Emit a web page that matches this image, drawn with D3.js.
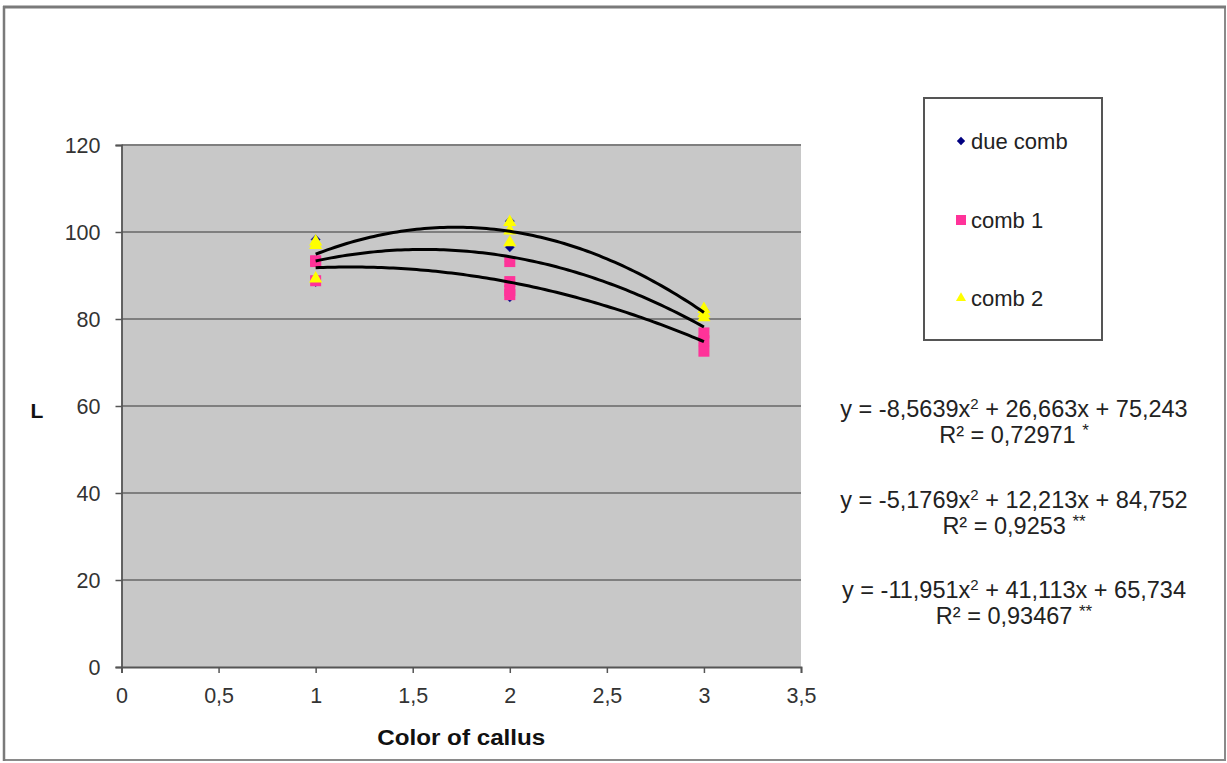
<!DOCTYPE html>
<html>
<head>
<meta charset="utf-8">
<script src="https://cdn.jsdelivr.net/npm/d3@7"></script>
<style>
  html, body { margin: 0; padding: 0; background: #fff; }
  svg { display: block; font-family: "Liberation Sans", Arial, sans-serif; }
</style>
</head>
<body>
<svg id="chart" width="1227" height="763"></svg>
<script>
// Callus colour class (x) vs lightness L (y), three combinations
const seriesNames = ["due comb", "comb 1", "comb 2"];
const seriesColors = ["#000080", "#ff3399", "#ffff00"];

const dueCombX = [1, 1, 2, 2, 2, 2, 3, 3];
const dueCombY = [98.3, 88.5, 102.5, 96.5, 93.2, 85.0, 82.0, 74.3];

const comb1X = [1, 1, 1, 2, 2, 2, 2, 3, 3, 3];
const comb1Y = [93.2, 88.8, 93.4, 93.2, 88.6, 86.5, 85.6, 76.8, 72.6, 75.0];

const comb2X = [1, 1, 1, 2, 2, 2, 3, 3, 3];
const comb2Y = [98.0, 97.2, 89.5, 102.5, 100.5, 97.8, 82.5, 81.5, 80.6];

// Polynomial (order 2) trendline coefficients [a, b, c] for y = a x² + b x + c
const dueCombFit = [-8.5639, 26.663, 75.243];
const comb1Fit = [-5.1769, 12.213, 84.752];
const comb2Fit = [-11.951, 41.113, 65.734];
const fitRange = [1, 3];

const eqLabels = [
  ["y = -8,5639x", " + 26,663x + 75,243", "R² = 0,72971 ", "*"],
  ["y = -5,1769x", " + 12,213x + 84,752", "R² = 0,9253 ", "**"],
  ["y = -11,951x", " + 41,113x + 65,734", "R² = 0,93467 ", "**"]
];

const xTicks = [0, 0.5, 1, 1.5, 2, 2.5, 3, 3.5];
const yTicks = [0, 20, 40, 60, 80, 100, 120];
const xTitle = "Color of callus";
const yTitle = "L";

const svg = d3.select("#chart");

// outer frame
svg.append("rect").attr("x", 4).attr("y", 7).attr("width", 1221).attr("height", 753)
  .attr("fill", "#fff").attr("stroke", "#8a8a8a").attr("stroke-width", 2);
svg.append("line").attr("x1", 3).attr("x2", 1226).attr("y1", 7).attr("y2", 7)
  .attr("stroke", "#7a7a7a").attr("stroke-width", 3);
svg.append("line").attr("x1", 4).attr("x2", 4).attr("y1", 6).attr("y2", 761)
  .attr("stroke", "#7a7a7a").attr("stroke-width", 2.5);

const plot = { left: 121.5, right: 801, top: 145, bottom: 667 };
const x = d3.scaleLinear().domain([0, 3.5]).range([plot.left, plot.right]);
const y = d3.scaleLinear().domain([0, 120]).range([plot.bottom, plot.top]);

// plot area
svg.append("rect").attr("x", plot.left).attr("y", plot.top)
  .attr("width", plot.right - plot.left).attr("height", plot.bottom - plot.top)
  .attr("fill", "#c8c8c8");

// horizontal gridlines
svg.append("g").selectAll("line").data(yTicks.filter(d => d > 0)).join("line")
  .attr("x1", plot.left).attr("x2", plot.right)
  .attr("y1", d => y(d)).attr("y2", d => y(d))
  .attr("stroke", "#7f7f7f").attr("stroke-width", 2.2);

// axes
const fmt = d => String(d).replace(".", ",");
const yAxis = svg.append("g").attr("transform", `translate(${plot.left},0)`)
  .call(d3.axisLeft(y).tickValues(yTicks).tickFormat(fmt).tickSize(6).tickPadding(15));
const xAxis = svg.append("g").attr("transform", `translate(0,${plot.bottom})`)
  .call(d3.axisBottom(x).tickValues(xTicks).tickFormat(fmt).tickSize(6).tickPadding(15));
[xAxis, yAxis].forEach(g => {
  g.select(".domain").attr("stroke", "#555").attr("stroke-width", 1.8);
  g.selectAll(".tick line").attr("stroke", "#555").attr("stroke-width", 1.5);
  g.selectAll(".tick text").attr("font-size", 21.5).attr("fill", "#333")
    .attr("font-family", "Liberation Sans, Arial, sans-serif");
});
yAxis.selectAll(".tick text").attr("dy", "0.36em");

// axis titles
svg.append("text").attr("x", x(1.75)).attr("y", 745).attr("text-anchor", "middle")
  .attr("font-size", 22).attr("font-weight", "bold").attr("fill", "#111")
  .attr("textLength", 168).attr("lengthAdjust", "spacingAndGlyphs").text(xTitle);
svg.append("text").attr("x", 37).attr("y", 418).attr("text-anchor", "middle")
  .attr("font-size", 21).attr("font-weight", "bold").attr("fill", "#111").text(yTitle);

// markers
function drawMarkers(xs, ys, kind, color) {
  const g = svg.append("g");
  const pts = xs.map((d, i) => [x(d), y(ys[i])]);
  if (kind === "diamond") {
    g.selectAll("path").data(pts).join("path")
      .attr("d", d3.symbol(d3.symbolDiamond2, 56))
      .attr("transform", d => `translate(${d[0]},${d[1]})`)
      .attr("fill", color).attr("stroke", "#3344aa").attr("stroke-width", 0.5);
  } else if (kind === "square") {
    g.selectAll("rect").data(pts).join("rect")
      .attr("x", d => d[0] - 5.5).attr("y", d => d[1] - 5.5)
      .attr("width", 11).attr("height", 11).attr("fill", color);
  } else {
    g.selectAll("path").data(pts).join("path")
      .attr("d", d3.symbol(d3.symbolTriangle, 75))
      .attr("transform", d => `translate(${d[0]},${d[1] + 1})`)
      .attr("fill", color);
  }
}
drawMarkers(dueCombX, dueCombY, "diamond", seriesColors[0]);
drawMarkers(comb1X, comb1Y, "square", seriesColors[1]);
drawMarkers(comb2X, comb2Y, "triangle", seriesColors[2]);

// trendlines
const line = d3.line().x(d => x(d[0])).y(d => y(d[1])).curve(d3.curveLinear);
[dueCombFit, comb1Fit, comb2Fit].forEach(c => {
  const pts = d3.range(fitRange[0], fitRange[1] + 0.0001, 0.02)
    .map(t => [t, c[0] * t * t + c[1] * t + c[2]]);
  svg.append("path").attr("d", line(pts)).attr("fill", "none")
    .attr("stroke", "#000").attr("stroke-width", 3);
});

// legend
const lg = svg.append("g");
lg.append("rect").attr("x", 924).attr("y", 98).attr("width", 178).attr("height", 242)
  .attr("fill", "#fff").attr("stroke", "#555").attr("stroke-width", 2);
const legY = [141, 220, 298];
seriesNames.forEach((name, i) => {
  const cx = 961, cy = legY[i];
  if (i === 0) {
    lg.append("path").attr("d", d3.symbol(d3.symbolDiamond2, 44))
      .attr("transform", `translate(${cx},${cy})`).attr("fill", seriesColors[0]);
  } else if (i === 1) {
    lg.append("rect").attr("x", cx - 5).attr("y", cy - 5).attr("width", 10).attr("height", 10)
      .attr("fill", seriesColors[1]);
  } else {
    lg.append("path").attr("d", d3.symbol(d3.symbolTriangle, 44))
      .attr("transform", `translate(${cx},${cy})`).attr("fill", seriesColors[2]);
  }
  lg.append("text").attr("x", 971).attr("y", cy + 8).attr("font-size", 22)
    .attr("fill", "#222").text(name);
});

// trendline equations
const eqY = [417, 508, 598];
eqLabels.forEach((e, i) => {
  const t = svg.append("text").attr("x", 1014).attr("y", eqY[i]).attr("text-anchor", "middle")
    .attr("font-size", 23.5).attr("fill", "#222");
  t.append("tspan").text(e[0]);
  t.append("tspan").attr("font-size", 15).attr("dy", -8).text("2");
  t.append("tspan").attr("dy", 8).text(e[1]);
  const r = svg.append("text").attr("x", 1014).attr("y", eqY[i] + 26).attr("text-anchor", "middle")
    .attr("font-size", 23.5).attr("fill", "#222");
  r.append("tspan").text(e[2]);
  r.append("tspan").attr("font-size", 17).attr("dy", -7).text(e[3]);
});
</script>
</body>
</html>
